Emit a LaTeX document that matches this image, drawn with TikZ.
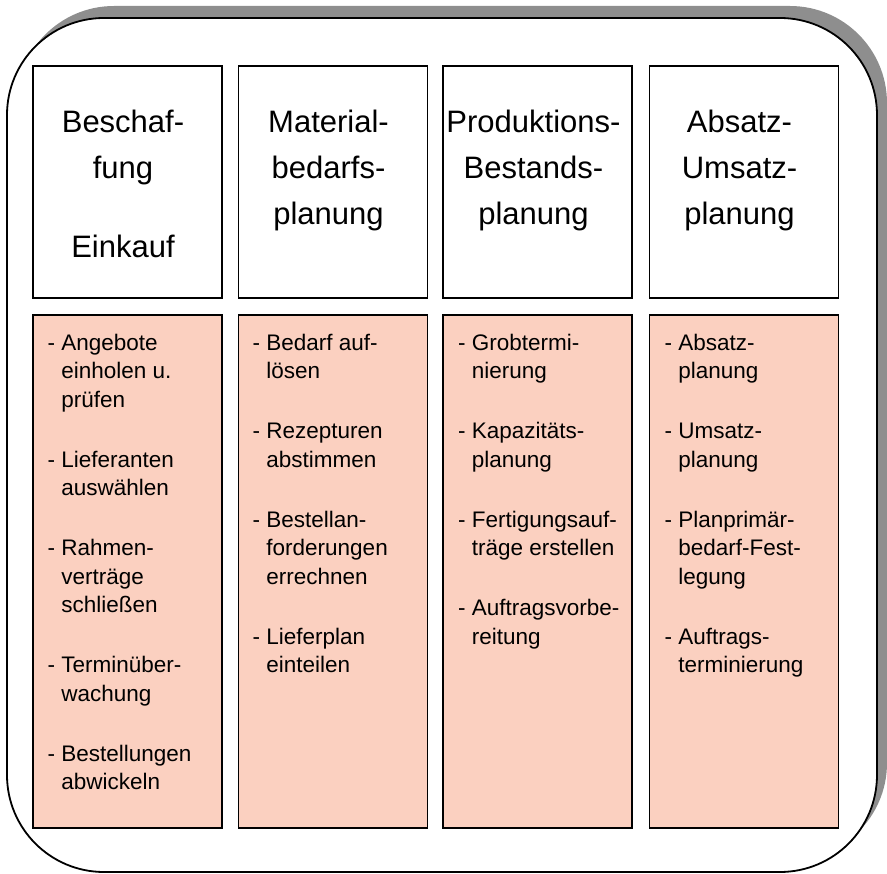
\documentclass[tikz,border=0pt]{standalone}
\usepackage{fontspec}
\setmainfont{Liberation Sans}
\usepackage[HTML]{xcolor}
\usetikzlibrary{positioning}
\definecolor{rosa}{HTML}{FBD0C0}
\definecolor{schatten}{HTML}{8E8E8E}
\newcommand{\ein}{\hphantom{- }}

\begin{document}
\begin{tikzpicture}[x=1pt, y=-1pt,
  kopf/.style={draw, line width=1.8pt, minimum width=189pt, minimum height=232pt, inner sep=0pt},
  liste/.style={draw, fill=rosa, line width=1.8pt, minimum width=189pt, minimum height=513pt, inner sep=0pt},
  kopftext/.style={anchor=north, align=center, inner sep=0pt, font=\fontsize{31}{46}\selectfont},
  listtext/.style={anchor=north west, align=left, inner sep=0pt, font=\fontsize{22.5}{28.5}\selectfont}]
\useasboundingbox (0,0) rectangle (887,874);

% Rahmen mit Schatten
\fill[schatten, rounded corners=97pt] (17,6) rectangle (887,860);
\draw[fill=white, line width=1.8pt, rounded corners=97pt] (7,18) rectangle (877,872);

% Kopfzeilen
\node[kopf] (k1) at (127.5,182) {};
\node[kopf] (k2) at (333,182) {};
\node[kopf] (k3) at (537.75,182) {};
\node[kopf] (k4) at (744,182) {};
\node[kopftext] (t1) at (123,109.5) {Beschaf-\\fung\\[33pt]Einkauf};
\node[kopftext] (t2) at (328.5,109.5) {Material-\\bedarfs-\\planung};
\node[kopftext] (t3) at (533.5,109.5) {Produktions-\\Bestands-\\planung};
\node[kopftext] (t4) at (739.5,109.5) {Absatz-\\Umsatz-\\planung};

% Aufgabenlisten
\node[liste] (p1) at (127.5,571.5) {};
\node[liste] (p2) at (333,571.5) {};
\node[liste] (p3) at (537.75,571.5) {};
\node[liste] (p4) at (744,571.5) {};
\node[listtext] (a1) at (47.5,333.6) {- Angebote\\\ein einholen u.\\\ein prüfen\\[31.5pt]
  - Lieferanten\\\ein auswählen\\[31.5pt]
  - Rahmen-\\\ein verträge\\\ein schließen\\[31.5pt]
  - Terminüber-\\\ein wachung\\[31.5pt]
  - Bestellungen\\\ein abwickeln};
\node[listtext] (a2) at (252.5,333.6) {- Bedarf auf-\\\ein lösen\\[31.5pt]
  - Rezepturen\\\ein abstimmen\\[31.5pt]
  - Bestellan-\\\ein forderungen\\\ein errechnen\\[31.5pt]
  - Lieferplan\\\ein einteilen};
\node[listtext] (a3) at (458,333.6) {- Grobtermi-\\\ein nierung\\[31.5pt]
  - Kapazitäts-\\\ein planung\\[31.5pt]
  - Fertigungsauf-\\\ein träge erstellen\\[31.5pt]
  - Auftragsvorbe-\\\ein reitung};
\node[listtext] (a4) at (664.5,333.6) {- Absatz-\\\ein planung\\[31.5pt]
  - Umsatz-\\\ein planung\\[31.5pt]
  - Planprimär-\\\ein bedarf-Fest-\\\ein legung\\[31.5pt]
  - Auftrags-\\\ein terminierung};
\end{tikzpicture}
\end{document}
